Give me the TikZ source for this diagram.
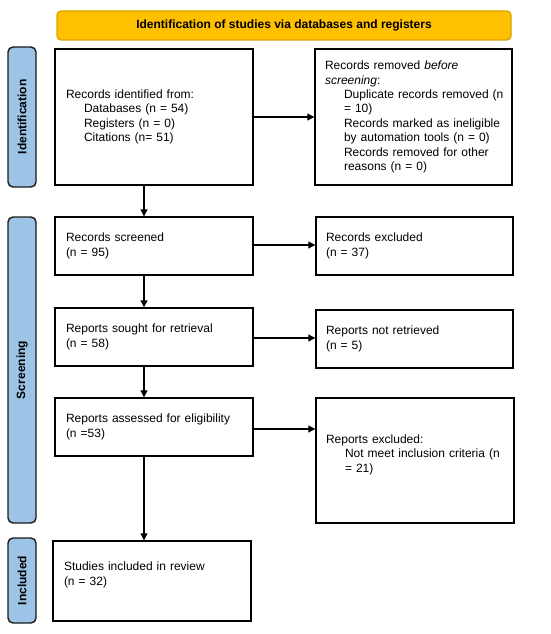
\documentclass[tikz,border=0pt]{standalone}
\usepackage{fontspec}
\setmainfont{Liberation Sans}
\usetikzlibrary{arrows.meta}
\definecolor{bannerfill}{HTML}{FFC000}
\definecolor{bannerdraw}{HTML}{D9A200}
\definecolor{sidefill}{HTML}{9DC3E6}
\definecolor{sidedraw}{HTML}{1A1A1A}
\tikzset{
  box/.style={draw=black, line width=1.4pt, fill=white, align=left, inner xsep=11pt, inner ysep=2pt,
    font=\fontsize{12}{14.4}\selectfont, anchor=center},
  sidelabel/.style={draw=sidedraw, fill=sidefill, line width=1.4pt, rounded corners=5pt,
    minimum width=28pt, font=\bfseries\fontsize{12}{14.4}\selectfont, inner sep=0pt},
  arr/.style={line width=1.1pt, -{Triangle[width=7pt,length=7pt]}},
}
\begin{document}
\begin{tikzpicture}[x=1pt,y=-1pt]
\useasboundingbox (0,0) rectangle (550,634);
% banner
\node[draw=bannerdraw, fill=bannerfill, line width=1.2pt, rounded corners=4pt,
  minimum width=454pt, minimum height=29pt, inner sep=0pt,
  font=\bfseries\fontsize{12}{14.4}\selectfont] (banner) at (284,25.5)
  {Identification of studies via databases and registers};
% side labels
\node[sidelabel, minimum height=140pt] (sideid) at (22,117) {};
\node[rotate=90, font=\bfseries\fontsize{12}{14.4}\selectfont] (sideidt) at (sideid.center) {Identification};
\node[sidelabel, minimum height=306pt] (sidesc) at (22,370) {};
\node[rotate=90, font=\bfseries\fontsize{12}{14.4}\selectfont] (sidesct) at (sidesc.center) {Screening};
\node[sidelabel, minimum height=85pt] (sidein) at (22,580.5) {};
\node[rotate=90, font=\bfseries\fontsize{12}{14.4}\selectfont] (sideint) at (sidein.center) {Included};
% boxes
\node[box, text width=176pt, minimum height=136pt] (ident) at (154,117)
  {Records identified from:\\
   \hspace*{18pt}Databases (n = 54)\\
   \hspace*{18pt}Registers (n = 0)\\
   \hspace*{18pt}Citations (n= 51)};
\node[box, text width=177pt, inner xsep=10pt, minimum height=136pt] (removed) at (413.5,117)
  {Records removed \textit{before}\\
   \textit{screening}:\\
   \hspace*{19pt}\mbox{Duplicate records removed (n}\\
   \hspace*{19pt}= 10)\\
   \hspace*{19pt}\mbox{Records marked as ineligible}\\
   \hspace*{19pt}\mbox{by automation tools (n = 0)}\\
   \hspace*{19pt}\mbox{Records removed for other}\\
   \hspace*{19pt}reasons (n = 0)};
\node[box, text width=176pt, minimum height=58pt] (screened) at (154,246)
  {Records screened\\(n = 95)};
\node[box, text width=177pt, inner xsep=10pt, minimum height=58pt] (excluded) at (414.5,246)
  {Records excluded\\(n = 37)};
\node[box, text width=176pt, minimum height=58pt] (sought) at (154,337)
  {Reports sought for retrieval\\(n = 58)};
\node[box, text width=177pt, inner xsep=10pt, minimum height=58pt] (notret) at (414.5,339)
  {Reports not retrieved\\(n = 5)};
\node[box, text width=176pt, minimum height=58pt] (assessed) at (154,427)
  {Reports assessed for eligibility\\(n =53)};
\node[box, text width=178pt, inner xsep=10pt, minimum height=125pt] (repexcl) at (415,460.5)
  {Reports excluded:\\
   \hspace*{19pt}\mbox{Not meet inclusion criteria (n}\\
   \hspace*{19pt}= 21)\\ \mbox{}};
\node[box, text width=176pt, minimum height=80pt] (included) at (152,581)
  {Studies included in review\\(n = 32)\\ \mbox{}};
% connectors
\coordinate (ax) at (144,0);
\draw[arr] (ident.south -| ax) -- (screened.north -| ax);
\draw[arr] (screened.south -| ax) -- (sought.north -| ax);
\draw[arr] (sought.south -| ax) -- (assessed.north -| ax);
\draw[arr] (assessed.south -| ax) -- (included.north -| ax);
\draw[arr] (ident.east) -- (removed.west |- ident.east);
\coordinate (a1) at (0,245);
\draw[arr] (screened.east |- a1) -- (excluded.west |- a1);
\coordinate (a2) at (0,338);
\draw[arr] (sought.east |- a2) -- (notret.west |- a2);
\coordinate (a3) at (0,429);
\draw[arr] (assessed.east |- a3) -- (repexcl.west |- a3);
\end{tikzpicture}
\end{document}
